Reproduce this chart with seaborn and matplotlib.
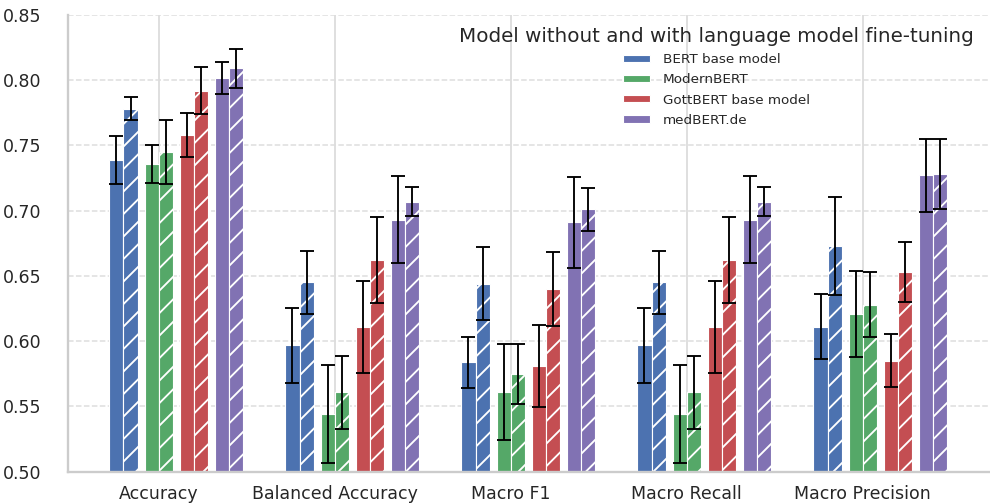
import numpy as np
import matplotlib
matplotlib.use("Agg")
import matplotlib.pyplot as plt
import seaborn as sns

metrics = ["Accuracy", "Balanced Accuracy", "Macro F1", "Macro Recall", "Macro Precision"]
models = ["BERT base model", "ModernBERT", "GottBERT base model", "medBERT.de"]

# values without fine-tuning (solid) and with fine-tuning (hatched), per metric
bert_base = [0.739, 0.597, 0.584, 0.597, 0.611]
bert_ft = [0.778, 0.645, 0.644, 0.645, 0.673]
modern_base = [0.736, 0.544, 0.561, 0.544, 0.621]
modern_ft = [0.745, 0.561, 0.575, 0.561, 0.628]
gott_base = [0.758, 0.611, 0.581, 0.611, 0.585]
gott_ft = [0.792, 0.662, 0.640, 0.662, 0.653]
med_base = [0.802, 0.693, 0.691, 0.693, 0.727]
med_ft = [0.809, 0.707, 0.701, 0.707, 0.728]

# error bar half-widths
bert_base_err = [0.0184, 0.0288, 0.0196, 0.0288, 0.0250]
bert_ft_err = [0.0088, 0.0240, 0.0280, 0.0240, 0.0373]
modern_base_err = [0.0145, 0.0375, 0.0368, 0.0375, 0.0330]
modern_ft_err = [0.0245, 0.0279, 0.0229, 0.0279, 0.0251]
gott_base_err = [0.0166, 0.0350, 0.0313, 0.0350, 0.0204]
gott_ft_err = [0.0180, 0.0330, 0.0281, 0.0330, 0.0233]
med_base_err = [0.0123, 0.0333, 0.0352, 0.0333, 0.0277]
med_ft_err = [0.0151, 0.0113, 0.0168, 0.0113, 0.0267]

base_vals = [bert_base, modern_base, gott_base, med_base]
ft_vals = [bert_ft, modern_ft, gott_ft, med_ft]
base_errs = [bert_base_err, modern_base_err, gott_base_err, med_base_err]
ft_errs = [bert_ft_err, modern_ft_err, gott_ft_err, med_ft_err]

sns.set_theme(style="whitegrid")
plt.rcParams["hatch.color"] = "white"
plt.rcParams["hatch.linewidth"] = 1.0
deep = sns.color_palette("deep", 10)
colors = [deep[0], deep[2], deep[3], deep[4]]

DPI = 135
fig = plt.figure(figsize=(990 / DPI, 504 / DPI), dpi=DPI)
ax = fig.add_axes([67.7 / 990, 32.3 / 504, 1 - 67.7 / 990, (471.7 - 15) / 504])

x = np.arange(len(metrics))
w = 0.08
handles = []
for i in range(4):
    c = x + (i - 1) * 0.2
    b = ax.bar(c - w / 2, base_vals[i], width=w, color=colors[i], edgecolor="white",
               linewidth=0.6, label=models[i], zorder=2)
    ax.bar(c + w / 2, ft_vals[i], width=w, color=colors[i], edgecolor="white",
           linewidth=0.6, hatch="//", zorder=2)
    ax.errorbar(c - w / 2, base_vals[i], yerr=base_errs[i], fmt="none", ecolor="black",
                elinewidth=1.0, capsize=3.5, capthick=1.0, zorder=3)
    ax.errorbar(c + w / 2, ft_vals[i], yerr=ft_errs[i], fmt="none", ecolor="black",
                elinewidth=1.0, capsize=3.5, capthick=1.0, zorder=3)
    handles.append(b)

ax.set_ylim(0.50, 0.85)
ax.set_xlim(-0.517, 4.723)
ax.set_yticks(np.arange(0.50, 0.851, 0.05))
ax.set_yticklabels([f"{v:.2f}" for v in np.arange(0.50, 0.851, 0.05)])
ax.set_xticks(x)
ax.set_xticklabels(metrics)
ax.tick_params(axis="both", labelsize=9.3)
ax.tick_params(axis="y", pad=8)
ax.tick_params(axis="x", pad=1)
ax.grid(axis="y", linestyle="--", color="#dddddd", linewidth=0.8)
ax.grid(axis="x", linestyle="-", color="#d5d5d5", linewidth=0.8)
ax.set_axisbelow(True)
for s in ["top", "right"]:
    ax.spines[s].set_visible(False)
for s in ["left", "bottom"]:
    ax.spines[s].set_color("#cccccc")

leg = ax.legend(handles=handles, labels=models, title="Model without and with language model fine-tuning",
                loc="upper right", bbox_to_anchor=(986 / 990, 1 - 15 / 504),
                bbox_transform=fig.transFigure, frameon=False, fontsize=7.2,
                title_fontsize=10.6, handleheight=0.45, handletextpad=0.9, labelspacing=0.53)

fig.savefig("out.png", dpi=DPI)
